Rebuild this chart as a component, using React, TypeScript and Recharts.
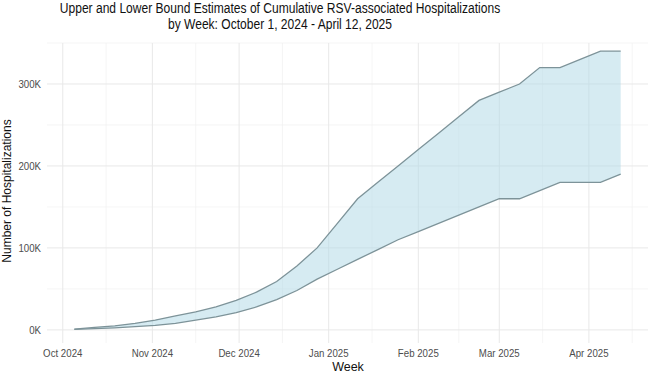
import {
  Area,
  CartesianGrid,
  ComposedChart,
  Line,
  XAxis,
  YAxis,
} from "recharts";

// Weekly cumulative estimates, week ending Saturday
const weeks = [
  "2024-10-05", "2024-10-12", "2024-10-19", "2024-10-26",
  "2024-11-02", "2024-11-09", "2024-11-16", "2024-11-23", "2024-11-30",
  "2024-12-07", "2024-12-14", "2024-12-21", "2024-12-28",
  "2025-01-04", "2025-01-11", "2025-01-18", "2025-01-25",
  "2025-02-01", "2025-02-08", "2025-02-15", "2025-02-22",
  "2025-03-01", "2025-03-08", "2025-03-15", "2025-03-22", "2025-03-29",
  "2025-04-05", "2025-04-12",
];

const upper = [
  1000, 3000, 5000, 8000,
  12000, 17000, 22000, 28000, 36000,
  46000, 59000, 78000, 100000,
  130000, 160000, 180000, 200000,
  220000, 240000, 260000, 280000,
  290000, 300000, 320000, 320000, 330000,
  340000, 340000,
];

const lower = [
  500, 1500, 2500, 4000,
  5500, 8000, 12000, 16000, 21000,
  28000, 37000, 48000, 62000,
  74000, 86000, 98000, 110000,
  120000, 130000, 140000, 150000,
  160000, 160000, 170000, 180000, 180000,
  180000, 190000,
];

const monthTicks = [
  "2024-10-01", "2024-11-01", "2024-12-01", "2025-01-01",
  "2025-02-01", "2025-03-01", "2025-04-01",
];
const monthMinor = [
  "2024-10-16", "2024-11-16", "2024-12-16", "2025-01-16",
  "2025-02-15", "2025-03-16", "2025-04-16",
];
const yTicks = [0, 100000, 200000, 300000];
const yMinor = [50000, 150000, 250000, 350000];

const DAY = 86400000;
const toTime = (s: string) => Date.parse(s + "T00:00:00Z");
const MONTHS = ["Jan", "Feb", "Mar", "Apr", "May", "Jun", "Jul", "Aug", "Sep", "Oct", "Nov", "Dec"];

const rows = weeks.map((w, i) => ({
  t: toTime(w),
  lower: lower[i],
  upper: upper[i],
  band: [lower[i], upper[i]],
}));

// ggplot-style 5% padding on both axes
const tMin = toTime(weeks[0]);
const tMax = toTime(weeks[weeks.length - 1]);
const tPad = (tMax - tMin) * 0.05;

const FONT = '"Liberation Sans", Arial, sans-serif';
const EDGE = "#7d9399";
const TICK_COLOR = "#4d4d4d";
// text in this figure is set a little narrower than plain Liberation Sans
const SQUEEZE = 0.88;

function formatMonth(t: number) {
  const d = new Date(t + DAY / 2);
  return `${MONTHS[d.getUTCMonth()]} ${d.getUTCFullYear()}`;
}

function XTick({ x, y, payload }: any) {
  return (
    <g transform={`translate(${x},${y})`}>
      <text
        transform={`scale(${SQUEEZE},1)`}
        textAnchor="middle"
        dy="0.71em"
        fill={TICK_COLOR}
        fontSize={11}
        fontFamily={FONT}
      >
        {formatMonth(payload.value)}
      </text>
    </g>
  );
}

function YTick({ x, y, payload }: any) {
  return (
    <g transform={`translate(${x},${y})`}>
      <text
        transform={`scale(${SQUEEZE},1)`}
        textAnchor="end"
        dy="0.355em"
        fill={TICK_COLOR}
        fontSize={11}
        fontFamily={FONT}
      >
        {`${payload.value / 1000}K`}
      </text>
    </g>
  );
}

export default function App() {
  return (
    <div
      style={{
        position: "absolute",
        left: 0,
        top: 0,
        width: 650,
        height: 373,
        background: "#fff",
        fontFamily: FONT,
      }}
    >
      <div
        style={{
          position: "absolute",
          left: 0,
          top: 0,
          width: 560,
          textAlign: "center",
          fontSize: 14,
          lineHeight: "16px",
          color: "#111",
          whiteSpace: "nowrap",
          transform: "scaleX(0.86)",
          transformOrigin: "280px 0",
        }}
      >
        Upper and Lower Bound Estimates of Cumulative RSV-associated Hospitalizations
        <br />
        by Week: October 1, 2024 - April 12, 2025
      </div>

      <ComposedChart
        width={650}
        height={373}
        data={rows}
        margin={{ top: 43, right: 2, bottom: 0, left: 0 }}
      >
        <CartesianGrid
          stroke="#f0f0f0"
          strokeWidth={0.7}
          horizontalValues={yMinor}
          verticalValues={monthMinor.map(toTime)}
        />
        <CartesianGrid
          stroke="#e8e8e8"
          strokeWidth={1}
          horizontalValues={yTicks}
          verticalValues={monthTicks.map(toTime)}
        />
        <XAxis
          dataKey="t"
          type="number"
          scale="time"
          domain={[tMin - tPad, tMax + tPad]}
          ticks={monthTicks.map(toTime)}
          interval={0}
          allowDataOverflow
          axisLine={false}
          tickLine={false}
          tickMargin={0}
          height={30}
          tick={<XTick />}
        />
        <YAxis
          type="number"
          domain={[-16000, 350000]}
          ticks={yTicks}
          interval={0}
          allowDataOverflow
          axisLine={false}
          tickLine={false}
          tickMargin={0}
          width={47}
          tick={<YTick />}
        />
        <Area
          dataKey="band"
          type="linear"
          stroke="none"
          fill="#add8e6"
          fillOpacity={0.5}
          isAnimationActive={false}
        />
        <Line
          dataKey="upper"
          type="linear"
          stroke={EDGE}
          strokeWidth={1.3}
          dot={false}
          activeDot={false}
          isAnimationActive={false}
        />
        <Line
          dataKey="lower"
          type="linear"
          stroke={EDGE}
          strokeWidth={1.3}
          dot={false}
          activeDot={false}
          isAnimationActive={false}
        />
      </ComposedChart>

      <div
        style={{
          position: "absolute",
          left: 7,
          top: 191,
          transform: "translate(-50%, -50%) rotate(-90deg)",
          whiteSpace: "nowrap",
          fontSize: 12,
          color: "#111",
        }}
      >
        Number of Hospitalizations
      </div>
      <div
        style={{
          position: "absolute",
          left: 348,
          top: 367,
          transform: "translate(-50%, -50%)",
          whiteSpace: "nowrap",
          fontSize: 12.5,
          color: "#111",
        }}
      >
        Week
      </div>
    </div>
  );
}
